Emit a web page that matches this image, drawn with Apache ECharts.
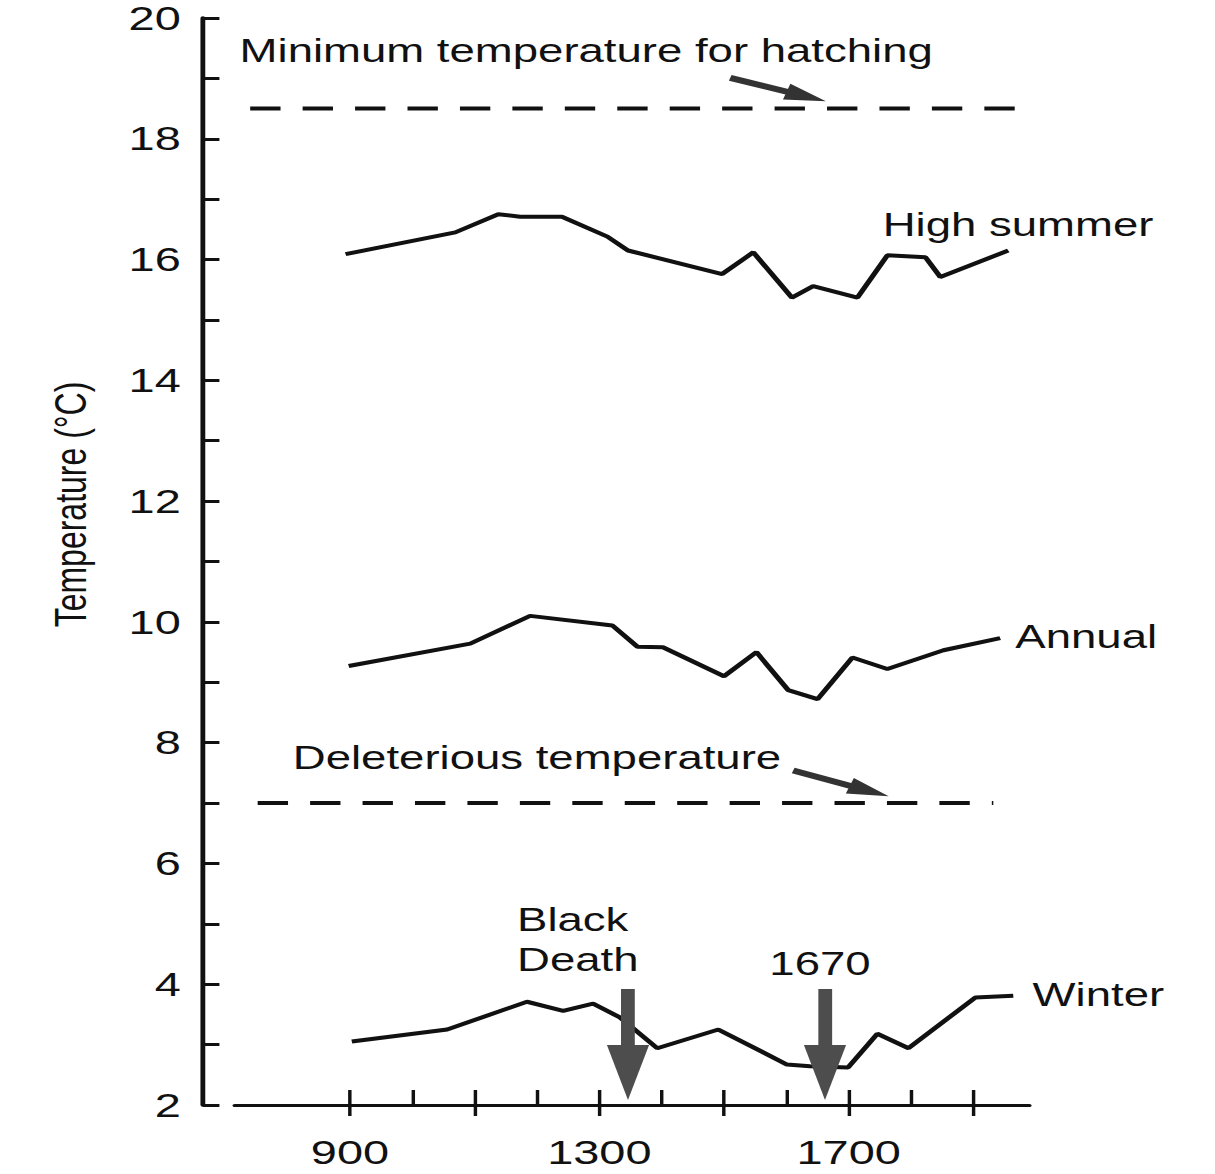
<!DOCTYPE html>
<html>
<head>
<meta charset="utf-8">
<title>Temperature since 900</title>
<script src="https://cdn.jsdelivr.net/npm/echarts@6/dist/echarts.min.js"></script>
<style>
  html, body { margin: 0; padding: 0; background: #fff; overflow: hidden; }
  /* the scanned figure is stretched sideways, so draw it narrow and stretch it the same way */
  #chart { width: 880px; height: 1174px; transform: scaleX(1.38); transform-origin: 0 0; }
</style>
</head>
<body>
<div id="chart"></div>
<script>
// (year, °C)
var summerYears = [893, 1069, 1138, 1173, 1240, 1313, 1346, 1497, 1547, 1609, 1643, 1714, 1762, 1823, 1847, 1956];
var summerTemps = [16.09, 16.45, 16.75, 16.71, 16.71, 16.38, 16.15, 15.76, 16.12, 15.37, 15.56, 15.37, 16.07, 16.04, 15.71, 16.15];

var annualYears = [898, 1093, 1189, 1321, 1361, 1402, 1500, 1552, 1603, 1650, 1706, 1762, 1852, 1943];
var annualTemps = [9.27, 9.64, 10.10, 9.94, 9.59, 9.58, 9.10, 9.50, 8.87, 8.72, 9.41, 9.22, 9.53, 9.73];

var winterYears = [903, 1056, 1184, 1242, 1290, 1333, 1393, 1491, 1601, 1638, 1699, 1746, 1796, 1903, 1964];
var winterTemps = [3.05, 3.25, 3.71, 3.56, 3.68, 3.45, 2.94, 3.25, 2.67, 2.64, 2.62, 3.18, 2.94, 3.78, 3.81];

// threshold lines
var hatchingTemp = 18.5;
var hatchingSpan = [740, 2012];
var deleteriousTemp = 7;
var deleteriousSpan = [752, 1932];

// events marked with arrows
var blackDeathYear = 1346;
var coldYear = 1662;

// axis ticks
var yearTicks = [900, 1000, 1100, 1200, 1300, 1400, 1500, 1600, 1700, 1800, 1900];
var yearLongTicks = [900, 1100, 1300, 1500, 1700, 1900];
var yearLabels = [900, 1300, 1700];

var ink = '#111';
var font = 'Liberation Sans';
var arrowHead = 'path://M5,0 L10,18 L0,18 Z';

function pairs(xs, ys) {
    return xs.map(function (x, i) { return [x, ys[i]]; });
}

function textPoint(name, coord, extra) {
    var item = { name: name, coord: coord };
    if (extra) item.label = extra;
    return item;
}

// arrow from a to b, head drawn at b
function arrow(a, b, size) {
    return [
        { coord: a, symbol: 'none' },
        { coord: b, symbol: arrowHead, symbolSize: size, symbolKeepAspect: true }
    ];
}

var textMarks = {
    symbol: 'circle',
    symbolSize: 0,
    silent: true,
    label: { show: true, position: 'inside', formatter: '{b}', color: ink, fontFamily: font, fontSize: 33 }
};

var chart = echarts.init(document.getElementById('chart'), null, { renderer: 'svg' });

var option = {
    backgroundColor: '#fff',
    animation: false,
    grid: { left: 170, right: 134, top: 18, bottom: 69, outerBoundsMode: 'none' },
    xAxis: [
        {
            type: 'value', position: 'bottom', min: 715, max: 1990,
            axisLine: { show: true, onZero: false, lineStyle: { color: ink, width: 3 } },
            axisTick: { show: true, inside: true, length: 15, customValues: yearTicks, lineStyle: { color: ink, width: 2.5 } },
            axisLabel: { show: false },
            splitLine: { show: false }
        },
        {
            type: 'value', position: 'bottom', min: 715, max: 1990,
            axisLine: { show: false, onZero: false },
            axisTick: { show: true, inside: false, length: 11, customValues: yearLongTicks, lineStyle: { color: ink, width: 2.5 } },
            axisLabel: {
                show: true, customValues: yearLabels, margin: 30, color: ink, fontFamily: font, fontSize: 34,
                formatter: function (v) { return String(v); }
            },
            splitLine: { show: false }
        }
    ],
    yAxis: {
        type: 'value', min: 2, max: 20, interval: 2, offset: 23,
        name: 'Temperature (°C)', nameLocation: 'middle', nameGap: 80, nameRotate: 90,
        nameTextStyle: { color: ink, fontFamily: font, fontSize: 32, padding: [0, 0, 0, 114] },
        axisLine: { show: true, onZero: false, lineStyle: { color: ink, width: 3.5 } },
        axisTick: { show: true, inside: true, length: 12, lineStyle: { color: ink, width: 3 } },
        minorTick: { show: true, splitNumber: 2, length: 12, lineStyle: { color: ink, width: 3 } },
        axisLabel: { color: ink, fontFamily: font, fontSize: 34, margin: 16 },
        splitLine: { show: false },
        minorSplitLine: { show: false }
    },
    series: [
        {
            name: 'High summer', type: 'line', showSymbol: false, silent: true,
            data: pairs(summerYears, summerTemps),
            lineStyle: { color: ink, width: 4 },
            endLabel: { show: true, formatter: 'High summer', distance: 0, offset: [-91, -26], color: ink, fontFamily: font, fontSize: 33 }
        },
        {
            name: 'Annual', type: 'line', showSymbol: false, silent: true,
            data: pairs(annualYears, annualTemps),
            lineStyle: { color: ink, width: 4 },
            endLabel: { show: true, formatter: 'Annual', distance: 0, offset: [11, -2], color: ink, fontFamily: font, fontSize: 33 }
        },
        {
            name: 'Winter', type: 'line', showSymbol: false, silent: true,
            data: pairs(winterYears, winterTemps),
            lineStyle: { color: ink, width: 4 },
            endLabel: { show: true, formatter: 'Winter', distance: 0, offset: [14, -1], color: ink, fontFamily: font, fontSize: 33 },
            markPoint: Object.assign({}, textMarks, {
                data: [
                    textPoint('Black\nDeath', [1168, 4.75], { align: 'left', lineHeight: 40 }),
                    textPoint(String(1670), [1654, 4.35])
                ]
            }),
            markLine: {
                silent: true,
                symbol: ['none', arrowHead],
                symbolSize: 55,
                symbolKeepAspect: true,
                label: { show: false },
                lineStyle: { color: '#4d4d4d', width: 10, type: 'solid' },
                data: [
                    arrow([blackDeathYear, 3.92], [blackDeathYear, 2.54], 55),
                    arrow([coldYear, 3.92], [coldYear, 2.54], 55)
                ]
            }
        },
        {
            name: 'Minimum temperature for hatching', type: 'line', showSymbol: false, silent: true, clip: false,
            data: [[hatchingSpan[0], hatchingTemp], [hatchingSpan[1], hatchingTemp]],
            lineStyle: { color: ink, width: 4, type: [22, 16] },
            markPoint: Object.assign({}, textMarks, {
                data: [textPoint('Minimum temperature for hatching', [1279, 19.46])]
            }),
            markLine: {
                silent: true,
                symbol: ['none', arrowHead],
                symbolSize: 30,
                symbolKeepAspect: true,
                label: { show: false },
                lineStyle: { color: '#333', width: 6, type: 'solid' },
                data: [arrow([1510, 19.01], [1632, 18.70], 30)]
            }
        },
        {
            name: 'Deleterious temperature', type: 'line', showSymbol: false, silent: true, clip: false,
            data: [[deleteriousSpan[0], deleteriousTemp], [deleteriousSpan[1], deleteriousTemp]],
            lineStyle: { color: ink, width: 4, type: [22, 16] },
            markPoint: Object.assign({}, textMarks, {
                data: [textPoint('Deleterious temperature', [1200, 7.75])]
            }),
            markLine: {
                silent: true,
                symbol: ['none', arrowHead],
                symbolSize: 30,
                symbolKeepAspect: true,
                label: { show: false },
                lineStyle: { color: '#333', width: 6, type: 'solid' },
                data: [arrow([1611, 7.54], [1733, 7.20], 30)]
            }
        }
    ]
};

chart.setOption(option);
</script>
</body>
</html>
